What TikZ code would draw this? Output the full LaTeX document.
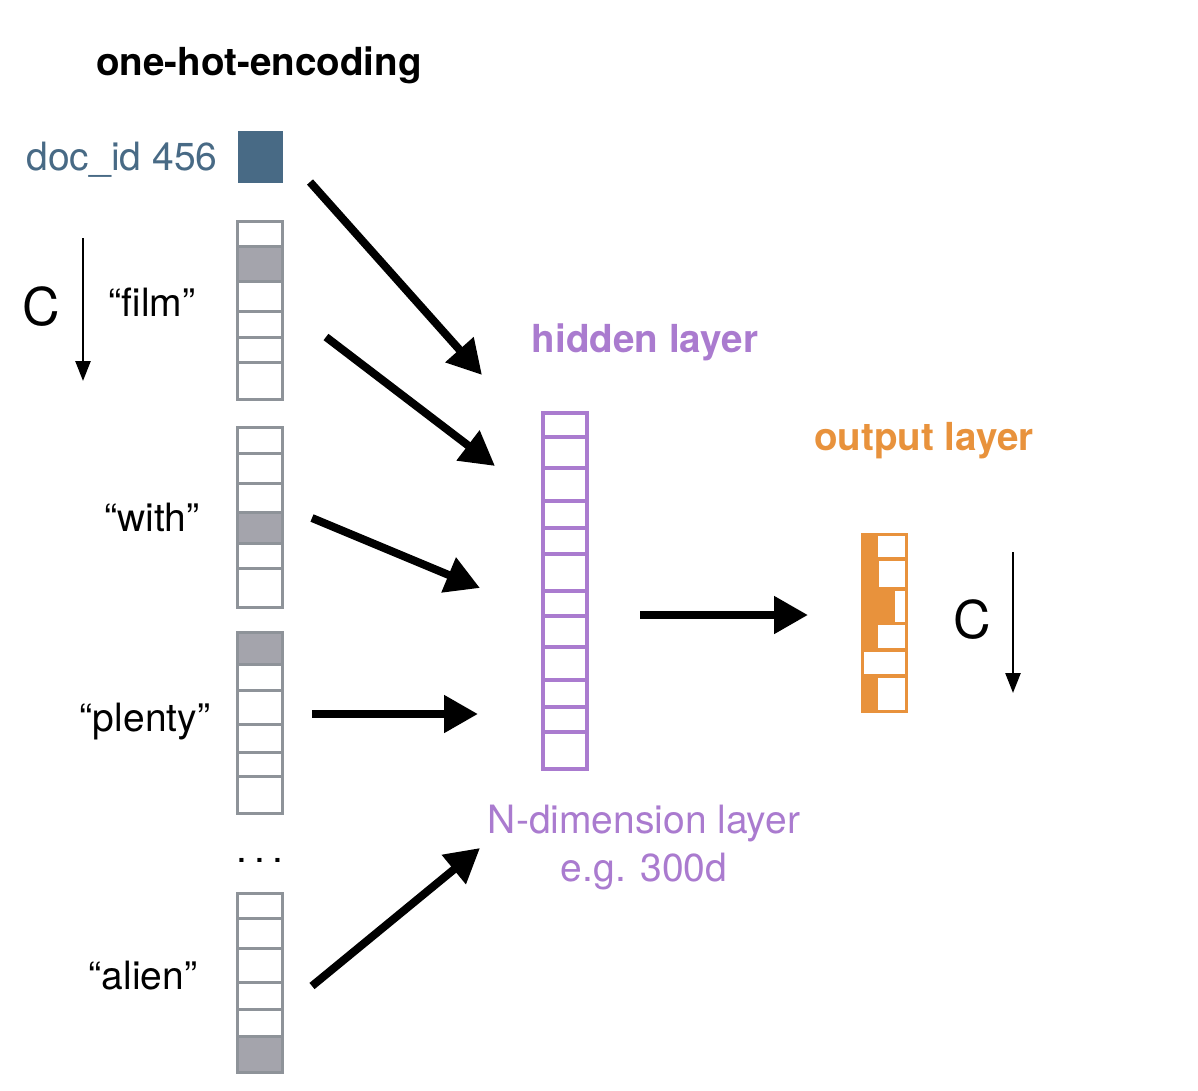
\documentclass[tikz,border=0pt]{standalone}
\usepackage{fontspec}
\setmainfont{TeX Gyre Heros}
\usetikzlibrary{arrows.meta}
\definecolor{docblue}{HTML}{486A85}
\definecolor{cellgray}{HTML}{8E9399}
\definecolor{hotgray}{HTML}{A4A4AC}
\definecolor{hidpurple}{HTML}{AA7BCF}
\definecolor{outorange}{HTML}{E8923C}

\begin{document}
\begin{tikzpicture}[x=1pt,y=-1pt,
    cell/.style={draw=cellgray,line width=3pt},
    hot/.style={cell,fill=hotgray},
    wordtxt/.style={anchor=base,font=\fontsize{39}{42}\selectfont},
    headtxt/.style={anchor=base,font=\fontsize{38.6}{42}\selectfont\bfseries},
    bigtxt/.style={anchor=base,font=\fontsize{52}{56}\selectfont},
    fatarrow/.style={line width=8pt,-{Triangle[length=34pt,width=36pt]}},
    dimarrow/.style={line width=2.5pt,-{Triangle[length=20pt,width=15pt]}}]
    \useasboundingbox (0,0) rectangle (1198,1090);

    \node[headtxt] (title) at (259,75) {one-hot-encoding};
    \node[wordtxt,text=docblue] (docid) at (122,170) {doc\_id 456};
    \node[bigtxt] (cleft) at (41,325) {C};
    \node[wordtxt] (film) at (152,316) {“film”};
    \node[wordtxt] (with) at (152,531) {“with”};
    \node[wordtxt] (plenty) at (145,731) {“plenty”};
    \node[wordtxt] (dots) at (260,862) {.\hspace{7pt}.\hspace{7pt}.};
    \node[wordtxt] (alien) at (143,989) {“alien”};

    \fill[docblue] (238,131) rectangle (283,183);
    \foreach \a/\b in {221/246,281/311,311/337,337/362,362/399}
        \draw[cell] (237,\a) rectangle (282,\b);
    \draw[hot] (237,246) rectangle (282,281);
    \foreach \a/\b in {427/453,453/483,483/512,543/568,568/607}
        \draw[cell] (237,\a) rectangle (282,\b);
    \draw[hot] (237,512) rectangle (282,543);
    \foreach \a/\b in {664/690,690/724,724/752,752/776,776/813}
        \draw[cell] (237,\a) rectangle (282,\b);
    \draw[hot] (237,632) rectangle (282,664);
    \foreach \a/\b in {893/918,918/948,948/982,982/1009,1009/1036}
        \draw[cell] (237,\a) rectangle (282,\b);
    \draw[hot] (237,1036) rectangle (282,1072);

    \coordinate (cl1) at (83,238);
    \coordinate (cl2) at (83,381);
    \draw[dimarrow] (cl1) -- (cl2);

    \node[headtxt,text=hidpurple] (hidlbl) at (645,352) {hidden layer};
    \draw[hidpurple,line width=3.5pt] (543,413) rectangle (587,769);
    \foreach \y in {437,468,501,528,554,591,616,647,680,707,732}
        \draw[hidpurple,line width=3.5pt] (543,\y) -- (587,\y);
    \node[wordtxt,text=hidpurple] (ndim) at (644,833) {N-dimension layer};
    \node[wordtxt,text=hidpurple] (eg) at (644,881) {e.g. 300d};

    \node[headtxt,text=outorange] (outlbl) at (924,450) {output layer};
    \fill[outorange] (861,533) rectangle (908,713);
    \foreach \x/\a/\b in {878/536/557,879/561/587,895/591/622,878/625/648,864/652/674,878/678/710}
        \fill[white] (\x,\a) rectangle (905,\b);
    \node[bigtxt] (cright) at (972,638) {C};
    \coordinate (cr1) at (1013,552);
    \coordinate (cr2) at (1013,693);
    \draw[dimarrow] (cr1) -- (cr2);

    \coordinate (src1) at (310,182);
    \coordinate (dst1) at (482,375);
    \coordinate (src2) at (326,337);
    \coordinate (dst2) at (495,466);
    \coordinate (src3) at (312,518);
    \coordinate (dst3) at (480,588);
    \coordinate (src4) at (312,714);
    \coordinate (dst4) at (478,714);
    \coordinate (src5) at (312,986);
    \coordinate (dst5) at (480,848);
    \coordinate (hidout) at (640,615);
    \coordinate (outin) at (808,615);
    \foreach \i in {1,...,5}
        \draw[fatarrow] (src\i) -- (dst\i);
    \draw[fatarrow] (hidout) -- (outin);
\end{tikzpicture}
\end{document}
